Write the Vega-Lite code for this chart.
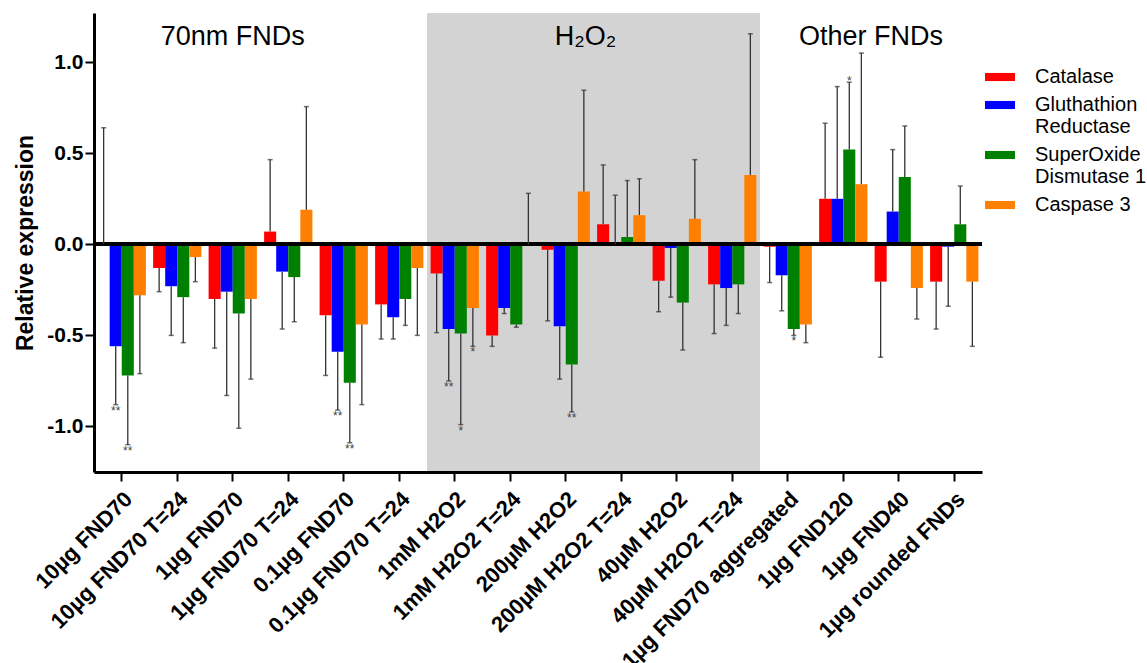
{
  "$schema": "https://vega.github.io/schema/vega-lite/v6.json",
  "width": 888,
  "height": 459,
  "autosize": "none",
  "padding": {"left": 94, "top": 13, "right": 165, "bottom": 191},
  "background": "white",
  "config": {
    "view": {"stroke": null},
    "font": "Liberation Sans",
    "axis": {"grid": false, "domainColor": "black", "domainWidth": 3, "tickColor": "black", "tickWidth": 2, "tickSize": 9, "labelColor": "black", "titleColor": "black", "labelFont": "Liberation Sans", "titleFont": "Liberation Sans"}
  },
  "datasets": {
    "bars": [
      {"g": "10µg FND70", "gene": "Catalase", "v": 0, "e": 0.64, "star": ""},
      {"g": "10µg FND70", "gene": "Gluthathion Reductase", "v": -0.56, "e": -0.88, "star": "**"},
      {"g": "10µg FND70", "gene": "SuperOxide Dismutase 1", "v": -0.72, "e": -1.10, "star": "**"},
      {"g": "10µg FND70", "gene": "Caspase 3", "v": -0.28, "e": -0.71, "star": ""},
      {"g": "10µg FND70 T=24", "gene": "Catalase", "v": -0.13, "e": -0.26, "star": ""},
      {"g": "10µg FND70 T=24", "gene": "Gluthathion Reductase", "v": -0.23, "e": -0.50, "star": ""},
      {"g": "10µg FND70 T=24", "gene": "SuperOxide Dismutase 1", "v": -0.29, "e": -0.54, "star": ""},
      {"g": "10µg FND70 T=24", "gene": "Caspase 3", "v": -0.07, "e": -0.205, "star": ""},
      {"g": "1µg FND70", "gene": "Catalase", "v": -0.30, "e": -0.57, "star": ""},
      {"g": "1µg FND70", "gene": "Gluthathion Reductase", "v": -0.26, "e": -0.83, "star": ""},
      {"g": "1µg FND70", "gene": "SuperOxide Dismutase 1", "v": -0.38, "e": -1.01, "star": ""},
      {"g": "1µg FND70", "gene": "Caspase 3", "v": -0.30, "e": -0.74, "star": ""},
      {"g": "1µg FND70 T=24", "gene": "Catalase", "v": 0.07, "e": 0.465, "star": ""},
      {"g": "1µg FND70 T=24", "gene": "Gluthathion Reductase", "v": -0.15, "e": -0.465, "star": ""},
      {"g": "1µg FND70 T=24", "gene": "SuperOxide Dismutase 1", "v": -0.18, "e": -0.425, "star": ""},
      {"g": "1µg FND70 T=24", "gene": "Caspase 3", "v": 0.19, "e": 0.756, "star": ""},
      {"g": "0.1µg FND70", "gene": "Catalase", "v": -0.39, "e": -0.72, "star": ""},
      {"g": "0.1µg FND70", "gene": "Gluthathion Reductase", "v": -0.59, "e": -0.91, "star": "**"},
      {"g": "0.1µg FND70", "gene": "SuperOxide Dismutase 1", "v": -0.76, "e": -1.09, "star": "**"},
      {"g": "0.1µg FND70", "gene": "Caspase 3", "v": -0.44, "e": -0.88, "star": ""},
      {"g": "0.1µg FND70 T=24", "gene": "Catalase", "v": -0.33, "e": -0.52, "star": ""},
      {"g": "0.1µg FND70 T=24", "gene": "Gluthathion Reductase", "v": -0.40, "e": -0.52, "star": ""},
      {"g": "0.1µg FND70 T=24", "gene": "SuperOxide Dismutase 1", "v": -0.30, "e": -0.445, "star": ""},
      {"g": "0.1µg FND70 T=24", "gene": "Caspase 3", "v": -0.13, "e": -0.50, "star": ""},
      {"g": "1mM H2O2", "gene": "Catalase", "v": -0.16, "e": -0.485, "star": ""},
      {"g": "1mM H2O2", "gene": "Gluthathion Reductase", "v": -0.465, "e": -0.75, "star": "**"},
      {"g": "1mM H2O2", "gene": "SuperOxide Dismutase 1", "v": -0.49, "e": -0.99, "star": "*"},
      {"g": "1mM H2O2", "gene": "Caspase 3", "v": -0.35, "e": -0.56, "star": "*"},
      {"g": "1mM H2O2 T=24", "gene": "Catalase", "v": -0.50, "e": -0.56, "star": ""},
      {"g": "1mM H2O2 T=24", "gene": "Gluthathion Reductase", "v": -0.35, "e": -0.38, "star": ""},
      {"g": "1mM H2O2 T=24", "gene": "SuperOxide Dismutase 1", "v": -0.44, "e": -0.455, "star": ""},
      {"g": "1mM H2O2 T=24", "gene": "Caspase 3", "v": 0, "e": 0.28, "star": ""},
      {"g": "200µM H2O2", "gene": "Catalase", "v": -0.03, "e": -0.42, "star": ""},
      {"g": "200µM H2O2", "gene": "Gluthathion Reductase", "v": -0.45, "e": -0.74, "star": ""},
      {"g": "200µM H2O2", "gene": "SuperOxide Dismutase 1", "v": -0.66, "e": -0.92, "star": "**"},
      {"g": "200µM H2O2", "gene": "Caspase 3", "v": 0.29, "e": 0.846, "star": ""},
      {"g": "200µM H2O2 T=24", "gene": "Catalase", "v": 0.11, "e": 0.436, "star": ""},
      {"g": "200µM H2O2 T=24", "gene": "Gluthathion Reductase", "v": 0, "e": 0.27, "star": ""},
      {"g": "200µM H2O2 T=24", "gene": "SuperOxide Dismutase 1", "v": 0.04, "e": 0.35, "star": ""},
      {"g": "200µM H2O2 T=24", "gene": "Caspase 3", "v": 0.16, "e": 0.36, "star": ""},
      {"g": "40µM H2O2", "gene": "Catalase", "v": -0.20, "e": -0.37, "star": ""},
      {"g": "40µM H2O2", "gene": "Gluthathion Reductase", "v": -0.02, "e": -0.29, "star": ""},
      {"g": "40µM H2O2", "gene": "SuperOxide Dismutase 1", "v": -0.32, "e": -0.58, "star": ""},
      {"g": "40µM H2O2", "gene": "Caspase 3", "v": 0.14, "e": 0.465, "star": ""},
      {"g": "40µM H2O2 T=24", "gene": "Catalase", "v": -0.22, "e": -0.49, "star": ""},
      {"g": "40µM H2O2 T=24", "gene": "Gluthathion Reductase", "v": -0.24, "e": -0.445, "star": ""},
      {"g": "40µM H2O2 T=24", "gene": "SuperOxide Dismutase 1", "v": -0.22, "e": -0.38, "star": ""},
      {"g": "40µM H2O2 T=24", "gene": "Caspase 3", "v": 0.38, "e": 1.156, "star": ""},
      {"g": "1µg FND70 aggregated", "gene": "Catalase", "v": -0.013, "e": -0.21, "star": ""},
      {"g": "1µg FND70 aggregated", "gene": "Gluthathion Reductase", "v": -0.17, "e": -0.365, "star": ""},
      {"g": "1µg FND70 aggregated", "gene": "SuperOxide Dismutase 1", "v": -0.465, "e": -0.50, "star": "*"},
      {"g": "1µg FND70 aggregated", "gene": "Caspase 3", "v": -0.44, "e": -0.54, "star": ""},
      {"g": "1µg FND120", "gene": "Catalase", "v": 0.25, "e": 0.665, "star": ""},
      {"g": "1µg FND120", "gene": "Gluthathion Reductase", "v": 0.25, "e": 0.866, "star": ""},
      {"g": "1µg FND120", "gene": "SuperOxide Dismutase 1", "v": 0.52, "e": 0.89, "star": "*"},
      {"g": "1µg FND120", "gene": "Caspase 3", "v": 0.33, "e": 1.05, "star": ""},
      {"g": "1µg FND40", "gene": "Catalase", "v": -0.205, "e": -0.62, "star": ""},
      {"g": "1µg FND40", "gene": "Gluthathion Reductase", "v": 0.18, "e": 0.52, "star": ""},
      {"g": "1µg FND40", "gene": "SuperOxide Dismutase 1", "v": 0.37, "e": 0.65, "star": ""},
      {"g": "1µg FND40", "gene": "Caspase 3", "v": -0.24, "e": -0.41, "star": ""},
      {"g": "1µg rounded FNDs", "gene": "Catalase", "v": -0.205, "e": -0.465, "star": ""},
      {"g": "1µg rounded FNDs", "gene": "Gluthathion Reductase", "v": -0.013, "e": -0.34, "star": ""},
      {"g": "1µg rounded FNDs", "gene": "SuperOxide Dismutase 1", "v": 0.11, "e": 0.32, "star": ""},
      {"g": "1µg rounded FNDs", "gene": "Caspase 3", "v": -0.205, "e": -0.56, "star": ""}
    ]
  },
  "data": {"name": "bars"},
  "layer": [
    {
      "data": {"values": [{"from": "1mM H2O2", "to": "40µM H2O2 T=24"}]},
      "mark": {"type": "rect", "color": "#d3d3d3"},
      "encoding": {
        "x": {"field": "from", "type": "nominal", "bandPosition": -0.0745,
          "scale": {"domain": ["10µg FND70", "10µg FND70 T=24", "1µg FND70", "1µg FND70 T=24", "0.1µg FND70", "0.1µg FND70 T=24", "1mM H2O2", "1mM H2O2 T=24", "200µM H2O2", "200µM H2O2 T=24", "40µM H2O2", "40µM H2O2 T=24", "1µg FND70 aggregated", "1µg FND120", "1µg FND40", "1µg rounded FNDs"], "paddingInner": 0.13, "paddingOuter": 0.065},
          "axis": {"title": null, "labelAngle": -45, "labelAlign": "right", "labelBaseline": "top", "labelFontSize": 22, "labelFontWeight": "bold", "labelPadding": 7, "labelLimit": 400}},
        "x2": {"field": "to", "bandPosition": 1.0745},
        "y": {"datum": -1.25, "type": "quantitative"},
        "y2": {"datum": 1.27}
      }
    },
    {
      "mark": {"type": "bar"},
      "encoding": {
        "x": {"field": "g", "type": "nominal"},
        "xOffset": {"field": "gene", "type": "nominal", "scale": {"domain": ["Catalase", "Gluthathion Reductase", "SuperOxide Dismutase 1", "Caspase 3"], "paddingInner": 0, "paddingOuter": 0}},
        "y": {"field": "v", "type": "quantitative",
          "scale": {"domain": [-1.25, 1.27], "nice": false, "zero": false},
          "axis": {"title": "Relative expression", "values": [-1, -0.5, 0, 0.5, 1], "labelExpr": "datum.value < 0 ? '-' + format(-datum.value, '.1f') : format(datum.value, '.1f')", "labelFontSize": 21, "labelFontWeight": "bold", "titleFontSize": 23, "titleFontWeight": "bold", "titlePadding": 9, "labelPadding": 2}},
        "y2": {"datum": 0},
        "color": {"field": "gene", "type": "nominal",
          "scale": {"domain": ["Catalase", "Gluthathion Reductase", "SuperOxide Dismutase 1", "Caspase 3"], "range": ["#ff0000", "#0000ff", "#008000", "#ff8000"]},
          "legend": {"title": null, "orient": "none", "legendX": 891, "legendY": 49, "symbolType": "M-1,-0.27H1V0.27H-1Z", "symbolSize": 900, "symbolStrokeWidth": 0, "symbolOpacity": 1, "labelFontSize": 20, "labelFont": "Liberation Sans", "labelColor": "black", "labelOffset": 20, "rowPadding": 3, "labelLimit": 200,
            "labelExpr": "datum.label == 'Gluthathion Reductase' ? ['Gluthathion', 'Reductase'] : datum.label == 'SuperOxide Dismutase 1' ? ['SuperOxide', 'Dismutase 1'] : datum.label"}
        }
      }
    },
    {
      "mark": {"type": "rule", "color": "black", "strokeWidth": 3},
      "encoding": {"y": {"datum": 0, "type": "quantitative"}}
    },
    {
      "mark": {"type": "rule", "color": "#333333", "strokeWidth": 1.3},
      "encoding": {
        "x": {"field": "g", "type": "nominal"},
        "xOffset": {"field": "gene", "type": "nominal"},
        "y": {"field": "v", "type": "quantitative"},
        "y2": {"field": "e"}
      }
    },
    {
      "mark": {"type": "tick", "orient": "horizontal", "size": 5, "thickness": 1.5, "color": "#333333"},
      "encoding": {
        "x": {"field": "g", "type": "nominal"},
        "xOffset": {"field": "gene", "type": "nominal"},
        "y": {"field": "e", "type": "quantitative"}
      }
    },
    {
      "transform": [{"filter": "datum.star != '' && datum.e < 0"}],
      "mark": {"type": "text", "baseline": "top", "dy": 1, "fontSize": 12, "color": "#444444"},
      "encoding": {
        "x": {"field": "g", "type": "nominal"},
        "xOffset": {"field": "gene", "type": "nominal"},
        "y": {"field": "e", "type": "quantitative"},
        "text": {"field": "star"}
      }
    },
    {
      "transform": [{"filter": "datum.star != '' && datum.e > 0"}],
      "mark": {"type": "text", "baseline": "bottom", "dy": 6, "fontSize": 12, "color": "#444444"},
      "encoding": {
        "x": {"field": "g", "type": "nominal"},
        "xOffset": {"field": "gene", "type": "nominal"},
        "y": {"field": "e", "type": "quantitative"},
        "text": {"field": "star"}
      }
    },
    {
      "data": {"values": [{"g": "1µg FND70", "y": 1.14, "t": "70nm FNDs"}]},
      "mark": {"type": "text", "fontSize": 27, "baseline": "middle", "color": "black"},
      "encoding": {"x": {"field": "g", "type": "nominal", "bandPosition": 0.5}, "y": {"field": "y", "type": "quantitative"}, "text": {"field": "t"}}
    },
    {
      "data": {"values": [{"g": "200µM H2O2", "y": 1.14, "t": "H₂O₂"}]},
      "mark": {"type": "text", "fontSize": 27, "baseline": "middle", "color": "black"},
      "encoding": {"x": {"field": "g", "type": "nominal", "bandPosition": 0.908}, "y": {"field": "y", "type": "quantitative"}, "text": {"field": "t"}}
    },
    {
      "data": {"values": [{"g": "1µg FND120", "y": 1.14, "t": "Other FNDs"}]},
      "mark": {"type": "text", "fontSize": 27, "baseline": "middle", "color": "black"},
      "encoding": {"x": {"field": "g", "type": "nominal", "bandPosition": 1.075}, "y": {"field": "y", "type": "quantitative"}, "text": {"field": "t"}}
    }
  ]
}
